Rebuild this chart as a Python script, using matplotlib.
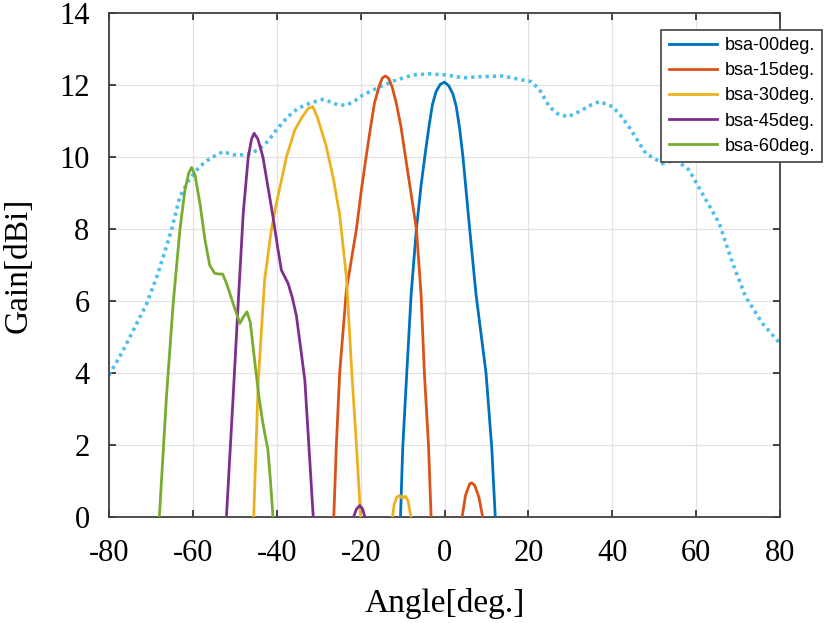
import numpy as np
import matplotlib
matplotlib.use("Agg")
import matplotlib.pyplot as plt

plt.rcParams['axes.unicode_minus'] = False

# envelope (dotted)
env_x = [-80, -77, -74.2, -71, -68.3, -65.1, -63.1, -61, -59.1, -57.5, -55.9, -52.8, -50.4,
         -48, -46, -44, -42, -40.1, -37.5, -35, -32, -29, -27.4, -25.5, -23.4, -21.5, -19.5,
         -15.5, -11.5, -7.5, -3.6, 0.4, 4.4, 8.3, 13.9, 18.6, 20.5, 22.5, 25, 27, 29.4, 31,
         32.9, 35, 36.9, 40.1, 42, 44, 48, 52, 55.2, 58.3, 61.5, 65.5, 68.7, 71.8, 75.8, 80]
env_y = [3.94, 4.55, 5.19, 5.93, 6.77, 7.97, 8.9, 9.35, 9.64, 9.82, 9.96, 10.15, 10.06,
         10.06, 10.1, 10.24, 10.45, 10.75, 11.1, 11.35, 11.5, 11.6, 11.54, 11.45, 11.44, 11.55, 11.72,
         11.95, 12.14, 12.28, 12.31, 12.28, 12.2, 12.23, 12.25, 12.14, 12.1, 11.9, 11.4, 11.2, 11.12, 11.2,
         11.31, 11.45, 11.54, 11.4, 11.15, 10.84, 10.1, 9.82, 9.92, 9.64, 8.98, 8.16, 7.05, 6.12, 5.38, 4.82]

# bsa-00deg
b00_x = [-10.5, -9.95, -9.0, -7.95, -6.7, -5.6, -4.6, -3.7, -2.9, -2.0, -1.0, 0.0, 1.0, 2.0,
         2.8, 3.6, 4.4, 5.2, 6.0, 7.5, 8.8, 9.9, 11.25, 12.1]
b00_y = [0, 1.95, 4.0, 6.2, 8.0, 9.2, 10.1, 10.85, 11.45, 11.82, 12.02, 12.08, 11.98, 11.75,
         11.4, 10.8, 10.0, 9.0, 8.0, 6.2, 5.0, 4.0, 1.95, 0]

# bsa-15deg (main lobe, gap, side lobe)
b15_x = [-26.4, -25.8, -25.0, -23.4, -21.0, -19.8, -18.7, -17.6, -16.7, -15.5, -14.8, -14.05,
         -13.3, -12.5, -11.5, -10.4, -9.3, -8.0, -6.7, -5.6, -4.8, -3.8, -3.2,
         np.nan, 4.2, 5.0, 6.0, 6.5, 7.2, 8.2, 9.1]
b15_y = [0, 1.95, 4.0, 6.3, 8.0, 9.1, 10.0, 10.85, 11.5, 12.0, 12.2, 12.25,
         12.18, 11.95, 11.5, 10.85, 10.0, 9.0, 8.0, 6.2, 4.0, 1.95, 0,
         np.nan, 0, 0.6, 0.92, 0.95, 0.88, 0.55, 0]

# bsa-30deg
b30_x = [-45.5, -44.4, -42.9, -41.3, -40.1, -38.8, -37.7, -35.7, -34.0, -32.5, -31.4, -30.3,
         -28.2, -26.5, -25.0, -23.4, -22.1, -21.0, -20.0,
         np.nan, -12.4, -12.0, -11.4, -10.7, -10.0, -9.3, -8.7, -8.0]
b30_y = [0, 3.8, 6.58, 7.97, 8.7, 9.4, 10.0, 10.75, 11.1, 11.35, 11.4, 11.1,
         10.3, 9.4, 8.4, 6.68, 4.0, 2.0, 0,
         np.nan, 0, 0.35, 0.55, 0.6, 0.52, 0.58, 0.45, 0]

# bsa-45deg
b45_x = [-52.0, -50.4, -49.2, -48.0, -46.8, -46.0, -45.4, -44.5, -43.3, -40.9, -39.8, -38.9,
         -37.3, -36.3, -35.3, -33.3, -31.3,
         np.nan, -21.7, -21.0, -20.2, -19.5, -19.0]
b45_y = [0, 3.34, 5.93, 8.43, 10.0, 10.5, 10.66, 10.5, 10.0, 8.34, 7.5, 6.86,
         6.49, 6.1, 5.58, 3.8, 0,
         np.nan, 0, 0.22, 0.32, 0.22, 0]

# bsa-60deg
b60_x = [-68.0, -66.3, -64.7, -63.1, -61.9, -61.0, -60.3, -59.5, -58.3, -57.1, -56.0, -54.8,
         -53.8, -52.9, -52.0, -50.4, -48.8, -48.0, -47.1, -46.3, -45.2, -44.2, -43.3, -42.1,
         -41.5, -40.9]
b60_y = [0, 3.34, 5.93, 7.97, 9.08, 9.55, 9.71, 9.5, 8.7, 7.69, 7.0, 6.77,
         6.75, 6.75, 6.5, 5.93, 5.38, 5.55, 5.70, 5.4, 4.27, 3.3, 2.6, 1.86,
         1.0, 0]

labels = ['bsa-00deg.', 'bsa-15deg.', 'bsa-30deg.', 'bsa-45deg.', 'bsa-60deg.']
colors = ['#0072BD', '#D95319', '#EDB120', '#7E2F8E', '#77AC30']

fig = plt.figure(figsize=(8.27, 6.23), dpi=100)
ax = fig.add_axes([0.1318, 0.1701, 0.8114, 0.809])

beams = [(b00_x, b00_y), (b15_x, b15_y), (b30_x, b30_y), (b45_x, b45_y), (b60_x, b60_y)]
for (bx, by), lab, c in zip(beams, labels, colors):
    ax.plot(bx, by, color=c, lw=2.0, label=lab, zorder=3, solid_joinstyle='round')

ax.plot(env_x, env_y, color='#4DBEEE', lw=2.6, linestyle=(0, (0.9, 1.1)), zorder=2)

ax.set_xlim(-80, 80)
ax.set_ylim(0, 14)
ax.set_xticks(np.arange(-80, 81, 20))
ax.set_yticks(np.arange(0, 15, 2))
ax.grid(True, color='#e2e2e2', lw=0.9)
ax.set_axisbelow(True)
ax.tick_params(direction='in', length=5, width=1.2, top=True, right=True,
               labelsize=22, colors='#262626', labelcolor='black')
ax.tick_params(axis='x', pad=16)
ax.tick_params(axis='y', pad=14)
for lab in ax.get_xticklabels() + ax.get_yticklabels():
    lab.set_fontfamily('Liberation Serif')
for s in ax.spines.values():
    s.set_color('#404040')
    s.set_linewidth(1.3)

ax.set_xlabel('Angle[deg.]', fontsize=24, family='Liberation Serif', labelpad=14)
ax.set_ylabel('Gain[dBi]', fontsize=24, family='Liberation Serif', labelpad=18)

leg = ax.legend(loc='upper right', bbox_to_anchor=(0.994, 0.952), bbox_transform=fig.transFigure,
                borderaxespad=0, fancybox=False, framealpha=1, edgecolor='#404040',
                prop={'family': 'Liberation Sans', 'size': 13}, handlelength=2.7,
                labelspacing=0.45, borderpad=0.4, handletextpad=0.4)
leg.get_frame().set_linewidth(1.2)

fig.savefig('out.png', dpi=100)
